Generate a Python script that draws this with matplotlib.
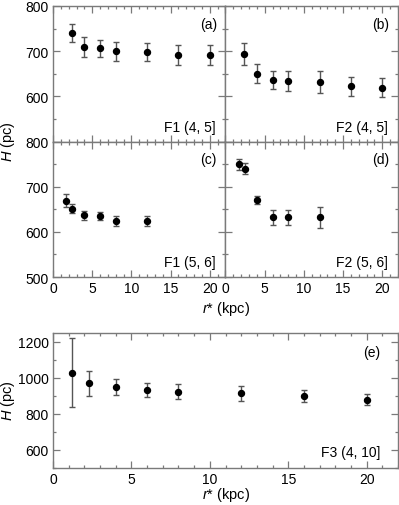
import numpy as np
import matplotlib
matplotlib.use('Agg')
import matplotlib.pyplot as plt
from matplotlib.ticker import MultipleLocator

plt.rcParams['font.family'] = ['Liberation Sans', 'DejaVu Sans']
plt.rcParams['font.size'] = 10
plt.rcParams['mathtext.fontset'] = 'custom'
plt.rcParams['mathtext.it'] = 'Liberation Sans:italic'
plt.rcParams['mathtext.rm'] = 'Liberation Sans'

# --- data ---
r_a = [2.4, 4, 6, 8, 12, 16, 20]
h_a = [740, 709, 706, 700, 698, 691, 691]
e_a = [20, 22, 19, 21, 19, 22, 22]

r_b = [2.4, 4, 6, 8, 12, 16, 20]
h_b = [693, 650, 637, 634, 631, 622, 619]
e_b = [24, 21, 20, 22, 24, 21, 21]

r_c = [1.6, 2.4, 4, 6, 8, 12]
h_c = [669, 651, 637, 636, 624, 624]
e_c = [15, 10, 10, 9, 10, 10]

r_d = [1.7, 2.5, 4, 6, 8, 12]
h_d = [750, 740, 670, 632, 632, 632]
e_d = [12, 13, 9, 17, 17, 23]

r_e = [1.2, 2.3, 4, 6, 8, 12, 16, 20]
h_e = [1030, 970, 950, 934, 925, 915, 900, 880]
e_e = [190, 68, 43, 40, 43, 43, 33, 30]

tags = ['(a)', '(b)', '(c)', '(d)']
names = ['F1 (4, 5]', 'F2 (4, 5]', 'F1 (5, 6]', 'F2 (5, 6]']

GRAY = '#7a7a7a'

W, H = 399, 506
fig = plt.figure(figsize=(W / 100, H / 100), dpi=100)


def style(ax):
    for s in ax.spines.values():
        s.set_color(GRAY)
        s.set_linewidth(1.0)
    ax.tick_params(which='both', direction='in', top=True, right=True,
                   color=GRAY, width=0.9, labelsize=10, pad=3)
    ax.tick_params(which='major', length=5)
    ax.tick_params(which='minor', length=2.5)
    ax.xaxis.set_major_locator(MultipleLocator(5))
    ax.xaxis.set_minor_locator(MultipleLocator(1))
    ax.set_xlim(0, 22)


def draw(ax, r, h, e):
    ax.errorbar(r, h, yerr=e, fmt='o', color='black', ms=4.3,
                ecolor='#555555', elinewidth=1.0, capsize=2.2, capthick=1.0)


# top 2x2 grid (pixel box: x 53-398, y 7-278)
L, R, T, B = 53 / W, 398 / W, 1 - 7 / H, 1 - 278 / H
gs = fig.add_gridspec(2, 2, left=L, right=R, top=T, bottom=B,
                      hspace=0, wspace=0)
datasets = [(r_a, h_a, e_a), (r_b, h_b, e_b), (r_c, h_c, e_c), (r_d, h_d, e_d)]
for i, (r, h, e) in enumerate(datasets):
    ax = fig.add_subplot(gs[i // 2, i % 2])
    style(ax)
    draw(ax, r, h, e)
    ax.set_ylim(500, 800)
    ax.yaxis.set_major_locator(MultipleLocator(100))
    ax.yaxis.set_minor_locator(MultipleLocator(50))
    if i % 2 == 1:
        ax.set_yticklabels([])
    elif i == 0:
        ax.set_yticks([500, 600, 700, 800])
        ax.set_yticklabels(['', '600', '700', '800'])
    if i < 2:
        ax.set_xticklabels([])
    ax.text(0.95, 0.87, tags[i], transform=ax.transAxes, ha='right',
            va='center', fontsize=10)
    ax.text(0.94, 0.11, names[i], transform=ax.transAxes, ha='right',
            va='center', fontsize=10)

fig.text(226 / W, 1 - 309 / H, '$r$* (kpc)', ha='center', va='center',
         fontsize=10.5)
fig.text(8 / W, 1 - 142 / H, '$H$ (pc)', ha='center', va='center',
         rotation=90, fontsize=10.5)

# bottom panel (pixel box: x 53-398, y 334-469)
ax = fig.add_axes([53 / W, 1 - 469 / H, 345 / W, 135 / H])
style(ax)
draw(ax, r_e, h_e, e_e)
ax.set_ylim(500, 1250)
ax.yaxis.set_major_locator(MultipleLocator(200))
ax.yaxis.set_minor_locator(MultipleLocator(100))
ax.text(0.95, 0.86, '(e)', transform=ax.transAxes, ha='right',
        va='center', fontsize=10)
ax.text(0.95, 0.12, 'F3 (4, 10]', transform=ax.transAxes, ha='right',
        va='center', fontsize=10)
fig.text(226 / W, 1 - 495 / H, '$r$* (kpc)', ha='center', va='center',
         fontsize=10.5)
fig.text(8 / W, 1 - 401 / H, '$H$ (pc)', ha='center', va='center',
         rotation=90, fontsize=10.5)

fig.savefig('out.png', dpi=100)
